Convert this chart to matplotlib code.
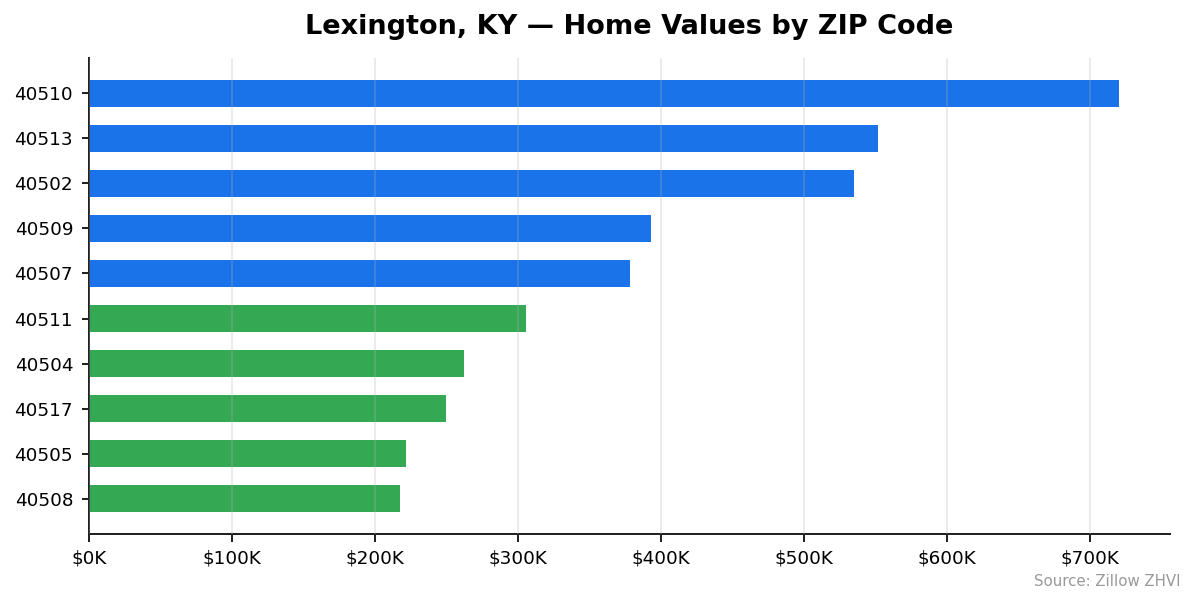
import matplotlib
matplotlib.use("Agg")
import matplotlib.pyplot as plt
from matplotlib.ticker import FuncFormatter

plt.rcParams["font.family"] = ["DejaVu Sans"]

zips = ["40510", "40513", "40502", "40509", "40507", "40511", "40504", "40517", "40505", "40508"]
values = [720000, 552000, 535000, 393000, 378000, 305500, 262000, 250000, 221500, 217500]
groups = ["high", "high", "high", "high", "high", "low", "low", "low", "low", "low"]
palette = {"high": "#1a73e8", "low": "#34a853"}

DPI = 120
fig = plt.figure(figsize=(1195/DPI, 603/DPI), dpi=DPI)
ax = fig.add_axes([89/1195, 1 - 534/603, (1170-89)/1195, (534-58)/603])

colors = [palette[g] for g in groups]
y = list(range(len(zips)))[::-1]
ax.barh(y, values, height=0.6, color=colors, zorder=2)
ax.set_yticks(y)
ax.set_yticklabels(zips, fontsize=11)
ax.set_xlim(0, max(values) * 1.05)
ax.xaxis.set_major_formatter(FuncFormatter(lambda v, p: f"${v/1000:.0f}K"))
ax.tick_params(axis="x", labelsize=11)
ax.tick_params(axis="both", length=4.5, width=1.2, pad=5, color="#222222")
ax.grid(axis="x", color="#b0b0b0", alpha=0.3, linewidth=1.0, zorder=3)
ax.set_axisbelow(False)
for s in ["top", "right"]:
    ax.spines[s].set_visible(False)
for s in ["left", "bottom"]:
    ax.spines[s].set_color("#222222")
    ax.spines[s].set_linewidth(1.2)

fig.text((89 + 1170) / 2 / 1195, 1 - 27/603, "Lexington, KY — Home Values by ZIP Code",
         fontsize=16.3, fontweight="bold", ha="center", va="center")
fig.text(1180/1195, 1 - 581/603, "Source: Zillow ZHVI", ha="right", va="center", fontsize=9, color="#999999")

fig.savefig("out.png", dpi=DPI)
